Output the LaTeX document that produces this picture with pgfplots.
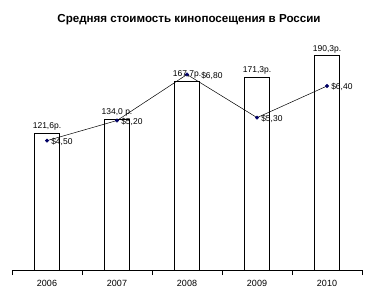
\documentclass[border=0pt]{standalone}
\usepackage{pgfplots}
\pgfplotsset{compat=1.18}
\usepackage{fontspec}
\setmainfont{Liberation Sans}
\begin{document}
\begin{tikzpicture}[x=1pt,y=1pt]
\path[use as bounding box] (0,0) rectangle (379,301);
\node[font=\bfseries\fontsize{11.6}{13}\selectfont] at (189,281) {Средняя стоимость кинопосещения в России};
\begin{axis}[
  at={(12pt,31pt)}, anchor=south west,
  scale only axis, width=350pt, height=230pt,
  xmin=-0.5, xmax=4.5, ymin=0, ymax=204,
  hide y axis,
  axis x line*=bottom,
  x axis line style={-, line width=0.6pt},
  xtick={0,1,2,3,4},
  xticklabels={2006,2007,2008,2009,2010},
  major x tick style={draw=none},
  minor xtick={-0.5,0.5,1.5,2.5,3.5,4.5},
  minor tick length=5pt,
  tick align=center,
  minor x tick style={line width=0.6pt, black},
  x tick label style={font=\fontsize{9}{10}\selectfont, yshift=-2pt},
  ybar, bar width=25pt,
  nodes near coords,
  point meta=explicit symbolic,
  every node near coord/.append style={font=\fontsize{8.5}{10}\selectfont, black, inner sep=2pt, yshift=0pt},
  clip=false,
]
\addplot[draw=black, fill=white, line width=0.6pt] coordinates {
  (0,121.6) [121,6р.]
  (1,134.0) [134,0 р.]
  (2,167.7) [167,7р.]
  (3,171.3) [171,3р.]
  (4,190.3) [190,3р.]
};
\end{axis}
\begin{axis}[
  at={(12pt,31pt)}, anchor=south west,
  scale only axis, width=350pt, height=230pt,
  xmin=-0.5, xmax=4.5, ymin=0, ymax=8,
  hide axis,
  nodes near coords,
  point meta=explicit symbolic,
  every node near coord/.append style={font=\fontsize{8.5}{10}\selectfont, black, anchor=west, inner sep=1pt, xshift=3pt, yshift=-1pt},
  clip=false,
]
\addplot[black, line width=0.5pt, mark=*, mark size=1.7pt, mark options={draw=blue!40!black, fill=blue!40!black}] coordinates {
  (0,4.5) [\$4,50]
  (1,5.2) [\$5,20]
  (2,6.8) [\hspace{10pt}\$6,80]
  (3,5.3) [\$5,30]
  (4,6.4) [\$6,40]
};
\end{axis}
\end{tikzpicture}
\end{document}
